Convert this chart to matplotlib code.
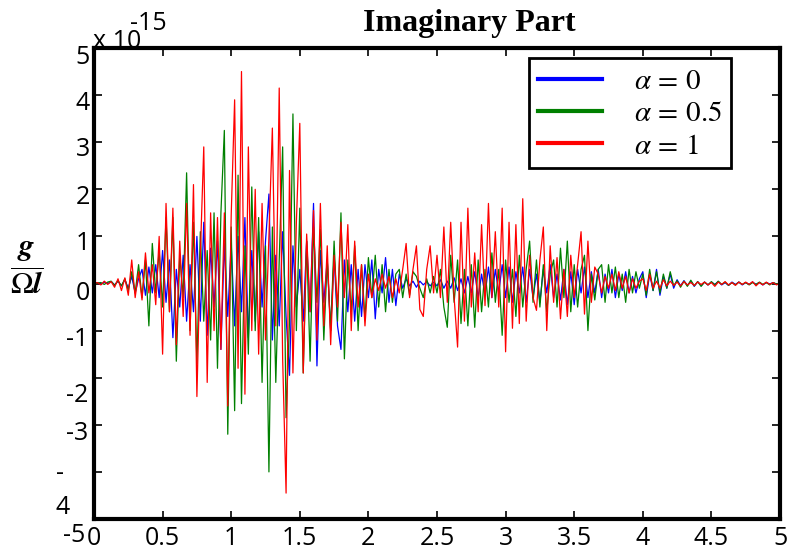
import numpy as np
import matplotlib
matplotlib.use("Agg")
import matplotlib.pyplot as plt

plt.rcParams['mathtext.fontset'] = 'stix'

# sample grid (x), values in units of 1e-15
x = np.linspace(0, 5, 201)

# alpha = 0
g_a0 = [0.0, 0.02, -0.02, 0.03, 0.0, 0.04, -0.03, 0.05, -0.05, 0.08,
        -0.1, 0.15, -0.2, 0.1, 0.3, -0.25, 0.35, -0.2, 0.4, -0.3,
        0.7, -0.4, 0.5, -1.15, 0.3, -0.5, 0.6, -0.8, 0.4, -0.6,
        1.0, -0.8, 1.3, -1.1, 0.75, -0.5, 0.9, -1.4, 0.85, -0.7,
        0.85, -0.9, 1.0, -0.6, 1.4, -1.15, 0.7, -0.8, 1.1, -0.5,
        0.9, 1.9, -1.2, 0.6, -0.9, 1.1, -0.7, -1.95, 0.8, -0.5,
        0.3, -0.8, 0.9, -0.6, 1.7, -1.75, 0.7, -0.4, 0.5, -1.0,
        0.6, -0.9, -1.4, 0.5, -0.6, 0.4, -0.8, 0.3, -0.7, 0.4,
        -0.3, 0.5, -0.75, 0.3, -0.2, 0.55, -0.4, 0.3, -0.47, 0.2,
        -0.1, 0.1, -0.05, 0.05, -0.08, 0.05, -0.03, 0.04, -0.05, 0.03,
        -0.05, 0.08, -0.1, 0.05, -0.1, 0.12, -0.15, 0.1, -0.2, 0.15,
        -0.2, 0.25, -0.3, 0.2, -0.25, 0.35, -0.3, 0.3, -0.2, 0.4,
        -0.3, 0.35, -0.4, 0.25, -0.2, 0.35, -0.4, 0.3, -0.3, 0.2,
        -0.4, 0.3, -0.2, 0.4, -0.3, 0.2, -0.35, 0.3, -0.45, 0.25,
        -0.45, 0.3, -0.2, 0.35, -0.3, 0.25, -0.2, 0.3, -0.3, 0.2,
        -0.2, 0.3, -0.3, 0.2, -0.15, 0.25, -0.2, 0.15, -0.2, 0.1,
        0.25, -0.3, 0.2, -0.15, 0.3, -0.25, 0.15, -0.1, 0.2, -0.1,
        0.08, -0.05, 0.06, -0.04, 0.05, -0.06, 0.04, -0.05, 0.03, -0.03,
        0.03, -0.02, 0.04, -0.03, 0.02, -0.04, 0.03, -0.02, 0.03, -0.03,
        0.02, -0.02, 0.03, -0.02, 0.02, -0.03, 0.02, -0.01, 0.02, -0.02,
        0.02]

# alpha = 0.5
g_a05 = [0.0, 0.01, 0.02, -0.02, 0.03, 0.05, -0.04, 0.06, -0.05, 0.1,
         -0.15, 0.25, -0.2, 0.4, -0.3, 0.5, -0.9, 0.85, -0.2, 0.7,
         -0.5, 1.4, -0.6, 1.4, -1.65, 0.6, -0.3, 2.35, -1.0, 1.3,
         -1.7, 1.1, -0.8, 0.7, -1.2, 1.5, -1.8, 1.5, 3.25, -3.2,
         1.2, -2.7, 2.3, -2.55, 0.8, -1.5, 2.05, -1.0, 1.4, -2.1,
         0.8, -4.0, 1.2, -2.1, 0.5, 2.9, -2.85, -0.8, 3.6, -1.0,
         1.6, -1.9, 0.9, -1.65, 1.2, -0.4, 1.15, -1.2, 0.5, -1.0,
         0.9, -0.8, 1.5, -1.6, 0.5, -0.6, 0.8, -1.0, 0.4, -0.75,
         0.55, -0.3, 0.6, -0.5, 0.4, -0.6, 0.3, -0.4, 0.2, 0.3,
         -0.3, 0.2, -0.25, 0.25, 0.15, -0.1, -0.3, 0.1, -0.2, 0.15,
         -0.2, 0.3, -0.5, -0.93, 0.6, -0.4, 0.5, -0.85, 0.3, -0.9,
         0.4, -0.93, 0.5, -0.6, 0.3, -0.5, 0.65, -0.4, 0.3, -1.1,
         0.5, -0.4, 0.3, -0.7, 0.6, -0.5, 0.3, 0.9, -0.4, 0.5,
         -0.5, 0.4, -0.6, 0.2, 0.5, -0.5, 0.75, -0.3, 0.9, -0.6,
         0.4, -0.5, 0.3, 0.6, -1.0, 0.2, -0.35, 0.3, 0.4, -0.4,
         0.4, -0.2, 0.35, -0.3, 0.2, -0.4, 0.3, -0.2, 0.25, -0.1,
         0.2, -0.25, 0.3, -0.15, 0.25, -0.2, 0.2, -0.1, 0.25, -0.05,
         0.06, -0.08, 0.05, -0.06, 0.07, -0.05, 0.04, -0.06, 0.03, -0.03,
         0.04, -0.03, 0.05, -0.02, 0.03, -0.04, 0.02, -0.03, 0.03, -0.02,
         0.02, -0.03, 0.02, -0.02, 0.03, -0.02, 0.02, -0.03, 0.02, -0.01,
         0.0]

# alpha = 1
g_a1 = [0.0, 0.02, -0.03, 0.05, -0.02, 0.04, -0.08, 0.1, -0.15, 0.12,
        -0.25, 0.5, -0.3, 0.25, -0.35, 0.65, -0.2, 0.4, -0.45, 1.0,
        -1.5, 1.7, -0.6, 1.6, -1.3, 0.9, -0.7, 1.7, -1.1, 2.1,
        -2.4, 0.6, 2.9, -2.1, 1.5, -1.0, 1.4, -1.4, 1.5, -2.6,
        1.45, 3.9, -1.8, 4.5, -2.35, 2.9, -1.0, 2.0, -1.5, 1.7,
        -1.2, 1.0, 3.3, -0.9, 4.15, -1.6, -4.45, 2.4, -1.9, 1.3,
        3.4, -1.9, 1.05, -0.6, 1.55, -1.2, 1.7, -0.9, 0.8, -1.3,
        0.6, -0.5, 1.3, -0.3, 1.25, -1.0, 0.9, -0.5, 0.4, -0.9,
        0.2, -0.3, 0.1, -0.15, 0.2, -0.1, 0.15, -0.3, 0.1, -0.2,
        0.3, 0.85, -0.3, 0.3, 0.8, -0.55, -0.7, 0.3, 0.8, -0.2,
        0.6, -0.3, 1.2, -0.4, 1.3, -0.3, -1.35, 1.3, -0.8, 1.6,
        -0.5, 0.65, -0.6, 1.25, -0.47, 1.7, -0.3, 1.1, -0.5, 1.6,
        -1.45, 1.3, -0.95, 1.25, -0.85, 1.8, -0.8, 0.6, -0.3, -0.57,
        0.5, 1.2, -1.0, 0.8, -0.4, 0.55, -0.75, 0.3, -0.7, 0.6,
        -0.3, 0.4, 1.1, -0.65, 0.9, -0.4, 0.35, 0.2, -0.2, 0.15,
        -0.1, 0.2, -0.15, 0.25, -0.1, 0.15, -0.2, 0.1, -0.1, 0.05,
        0.1, -0.15, 0.2, -0.1, 0.05, -0.1, 0.08, -0.05, 0.05, -0.04,
        0.03, -0.05, 0.04, -0.03, 0.02, -0.04, 0.03, -0.02, 0.03, -0.03,
        0.02, -0.06, 0.03, -0.02, 0.04, -0.03, 0.02, -0.04, 0.03, -0.02,
        0.03, -0.02, 0.04, -0.05, 0.02, -0.03, 0.03, -0.02, 0.02, -0.03,
        0.02]

labels = [r'$\alpha\,=\,0$', r'$\alpha\,=\,0.5$', r'$\alpha\,=\,1$']
colors = ['#0000ff', '#008000', '#ff0000']

W, H = 793, 557
fig = plt.figure(figsize=(W / 100, H / 100), dpi=100)
ax = fig.add_axes([94 / W, 1 - 519 / H, 686 / W, 471 / H])

handles = []
for ys, c, lab in zip([g_a0, g_a05, g_a1], colors, labels):
    h, = ax.plot(x, ys, color=c, lw=0.9, label=lab)
    handles.append(h)

ax.set_xlim(0, 5)
ax.set_ylim(-5, 5)
ax.set_xticks(np.arange(0, 5.01, 0.5))
ax.set_xticklabels(['0', '0.5', '1', '1.5', '2', '2.5', '3', '3.5', '4', '4.5', '5'],
                   fontfamily='Open Sans', fontsize=18)
ax.set_yticks(np.arange(-5, 6, 1))
ax.set_yticklabels([])
ax.tick_params(direction='in', top=True, right=True, length=6, width=1.2)
ax.tick_params(axis='x', pad=5)
for s in ax.spines.values():
    s.set_linewidth(3)

# y tick labels, placed by hand
def px(xp, yp):
    return xp / W, 1 - yp / H

ylabs = [('5', 90, 57), ('4', 90, 103), ('3', 90, 150), ('2', 90, 197),
         ('1', 90, 243), ('0', 90, 293), ('-1', 88, 340), ('-2', 88, 395),
         ('-3', 88, 434), ('-', 64, 473), ('4', 70, 507), ('-5', 85, 535)]
for t, xp, yp in ylabs:
    fig.text(*px(xp, yp), t, ha='right', va='center', fontsize=18,
             fontfamily='Open Sans')

# exponent
fig.text(*px(93, 42), 'x 10', ha='left', va='center', fontsize=18,
         fontfamily='Open Sans')
fig.text(*px(130, 24), '-15', ha='left', va='center', fontsize=18,
         fontfamily='Open Sans')

fig.text(*px(469, 23), 'Imaginary Part', ha='center', va='center',
         fontsize=23, fontweight='bold', fontfamily='Liberation Serif')

fig.text(*px(27, 268), r'$\dfrac{\boldsymbol{g}}{\Omega\boldsymbol{l}}$',
         ha='center', va='center', fontsize=22)

leg = ax.legend(handles=handles, loc='upper right',
                bbox_to_anchor=(731 / W, 1 - 58 / H), bbox_transform=fig.transFigure,
                borderaxespad=0, fontsize=21, handlelength=2.2, handletextpad=1.1,
                labelspacing=0.15, borderpad=0.3, fancybox=False,
                edgecolor='black', framealpha=1)
leg.get_frame().set_linewidth(2)
for l in leg.get_lines():
    l.set_linewidth(3)

fig.savefig('out.png', dpi=100)
